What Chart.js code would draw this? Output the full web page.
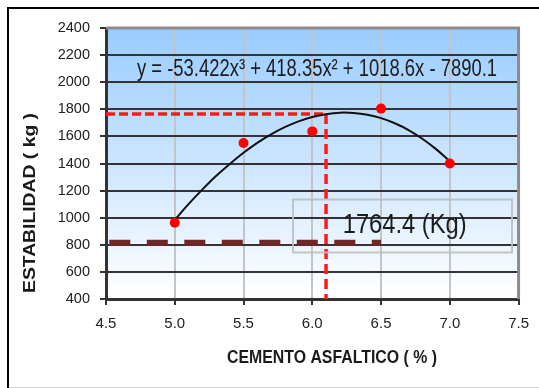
<!DOCTYPE html>
<html>
<head>
<meta charset="utf-8">
<script src="https://cdn.jsdelivr.net/npm/chart.js@4.4.1/dist/chart.umd.min.js"></script>
<style>
  html, body { margin: 0; padding: 0; background: #fff; overflow: hidden; }
  .wrap { position: relative; width: 539px; height: 388px; }
</style>
</head>
<body>
<div class="wrap"><canvas id="stabilityChart"></canvas></div>
<script>
// Data
const asphaltContent = [5.0, 5.5, 6.0, 6.5, 7.0];
const stability = [963, 1551, 1637, 1805, 1400];

// Trend line (3rd order polynomial)
const trendX = [5.0, 5.1, 5.2, 5.3, 5.4, 5.5, 5.6, 5.7, 5.8, 5.9, 6.0, 6.1, 6.2, 6.3, 6.4, 6.5, 6.6, 6.7, 6.8, 6.9, 7.0];
const trendY = [984, 1100, 1207, 1307, 1397, 1479, 1552, 1615, 1668, 1711, 1743, 1764, 1775, 1773, 1760, 1735, 1697, 1647, 1583, 1506, 1416];

// Optimum asphalt content and its stability
const optimumContent = 6.1;
const optimumStability = 1764.4;

// Minimum stability line
const minStability = 816;
const minStabilityRange = [4.5, 6.5];

const xRange = [4.5, 7.5];
const yRange = [400, 2400];

const equationLabel = 'y = -53.422x\u00B3 + 418.35x\u00B2 + 1018.6x - 7890.1';
const valueLabel = '1764.4 (Kg)';
const xTitle = 'CEMENTO ASFALTICO ( % )';
const yTitle = 'ESTABILIDAD ( kg )';

const FONT = "'Liberation Sans', Arial, sans-serif";

// draw text squeezed / stretched to a given width
function fitText(ctx, text, x, y, font, width, angle) {
    ctx.save();
    ctx.font = font;
    const w = ctx.measureText(text).width;
    ctx.translate(x, y);
    ctx.rotate(angle || 0);
    ctx.scale(width / w, 1);
    ctx.textAlign = 'center';
    ctx.textBaseline = 'alphabetic';
    ctx.fillText(text, 0, 0);
    ctx.restore();
}

const decorations = {
    id: 'decorations',
    beforeDraw(chart) {
        const ctx = chart.ctx;
        const a = chart.chartArea;
        ctx.save();
        // outer frame
        ctx.strokeStyle = '#000';
        ctx.lineWidth = 2;
        ctx.beginPath();
        ctx.moveTo(539, 8);
        ctx.lineTo(8, 8);
        ctx.lineTo(8, 388);
        ctx.stroke();
        ctx.strokeStyle = '#d0d0d0';
        ctx.lineWidth = 1;
        ctx.beginPath();
        ctx.moveTo(9, 387.5);
        ctx.lineTo(539, 387.5);
        ctx.stroke();
        // plot background
        const g = ctx.createLinearGradient(0, a.top, 0, a.bottom);
        g.addColorStop(0, '#99ccff');
        g.addColorStop(1, '#ffffff');
        ctx.fillStyle = g;
        ctx.fillRect(a.left, a.top, a.right - a.left, a.bottom - a.top);
        ctx.restore();
    },
    beforeDatasetsDraw(chart) {
        const ctx = chart.ctx;
        const a = chart.chartArea;
        ctx.save();
        ctx.strokeStyle = '#8c8c8c';
        ctx.lineWidth = 3;
        ctx.beginPath();
        ctx.moveTo(a.left, a.top);
        ctx.lineTo(a.right, a.top);
        ctx.lineTo(a.right, a.bottom);
        ctx.stroke();
        ctx.restore();
    },
    afterDraw(chart) {
        const ctx = chart.ctx;
        ctx.save();
        ctx.fillStyle = '#1c1c1c';
        // equation of the trend line
        fitText(ctx, equationLabel, 317, 75.5, '24px ' + FONT, 360);
        // value box
        ctx.strokeStyle = 'rgba(190,190,190,0.9)';
        ctx.lineWidth = 2;
        ctx.strokeRect(293, 199.5, 219, 53);
        fitText(ctx, valueLabel, 404.7, 233, '28px ' + FONT, 124);
        // axis titles
        ctx.fillStyle = '#1a1a1a';
        fitText(ctx, xTitle, 332, 363, 'bold 18px ' + FONT, 210);
        fitText(ctx, yTitle, 35, 203, 'bold 17px ' + FONT, 180, -Math.PI / 2);
        ctx.restore();
    }
};

const ctx = document.getElementById('stabilityChart').getContext('2d');

const stabilityChart = new Chart(ctx, {
    type: 'line',
    data: {
        datasets: [
            {
                label: 'Estabilidad',
                data: asphaltContent.map((x, i) => ({ x: x, y: stability[i] })),
                showLine: false,
                pointRadius: 5,
                pointBackgroundColor: '#ff0000',
                pointBorderColor: '#ff0000',
                pointBorderWidth: 0,
                order: 0
            },
            {
                label: 'Tendencia',
                data: trendX.map((x, i) => ({ x: x, y: trendY[i] })),
                borderColor: '#111',
                borderWidth: 2,
                pointRadius: 0,
                tension: 0.4,
                order: 1
            },
            {
                label: 'Optimo H',
                data: [{ x: xRange[0], y: optimumStability }, { x: optimumContent, y: optimumStability }],
                borderColor: '#ff1a1a',
                borderWidth: 3.5,
                borderDash: [9, 4],
                pointRadius: 0,
                order: 2
            },
            {
                label: 'Optimo V',
                data: [{ x: optimumContent, y: optimumStability }, { x: optimumContent, y: yRange[0] }],
                borderColor: '#ff1a1a',
                borderWidth: 3.5,
                borderDash: [10, 5],
                pointRadius: 0,
                order: 2
            },
            {
                label: 'Minimo',
                data: [{ x: minStabilityRange[0], y: minStability }, { x: minStabilityRange[1], y: minStability }],
                borderColor: '#6e2626',
                borderWidth: 6,
                borderDash: [21, 16.5],
                borderDashOffset: 34.2,
                pointRadius: 0,
                order: 3
            }
        ]
    },
    options: {
        responsive: true,
        maintainAspectRatio: false,
        animation: false,
        layout: {
            padding: { left: 0, top: 28, right: 18.3, bottom: 0 }
        },
        plugins: {
            legend: { display: false },
            tooltip: { enabled: false }
        },
        scales: {
            x: {
                type: 'linear',
                min: xRange[0],
                max: xRange[1],
                afterFit: scale => { scale.height = 89; },
                ticks: {
                    stepSize: 0.5,
                    padding: 10,
                    color: '#222',
                    font: { family: FONT, size: 15 },
                    callback: v => v.toFixed(1)
                },
                grid: {
                    color: c => (c.tick && c.tick.value === xRange[1]) ? '#8c8c8c' : '#c4c4c4',
                    lineWidth: 2,
                    tickLength: 6,
                    tickColor: '#333'
                },
                border: { color: '#333', width: 3 }
            },
            y: {
                min: yRange[0],
                max: yRange[1],
                afterFit: scale => { scale.width = 106; },
                ticks: {
                    stepSize: 200,
                    padding: 10,
                    color: '#222',
                    font: { family: FONT, size: 14.5 },
                    callback: v => String(v)
                },
                grid: {
                    color: c => (c.tick && c.tick.value === yRange[1]) ? '#8c8c8c' : '#333',
                    lineWidth: 2,
                    tickLength: 6,
                    tickColor: '#333'
                },
                border: { color: '#333', width: 3 }
            }
        }
    },
    plugins: [decorations]
});
</script>
</body>
</html>
